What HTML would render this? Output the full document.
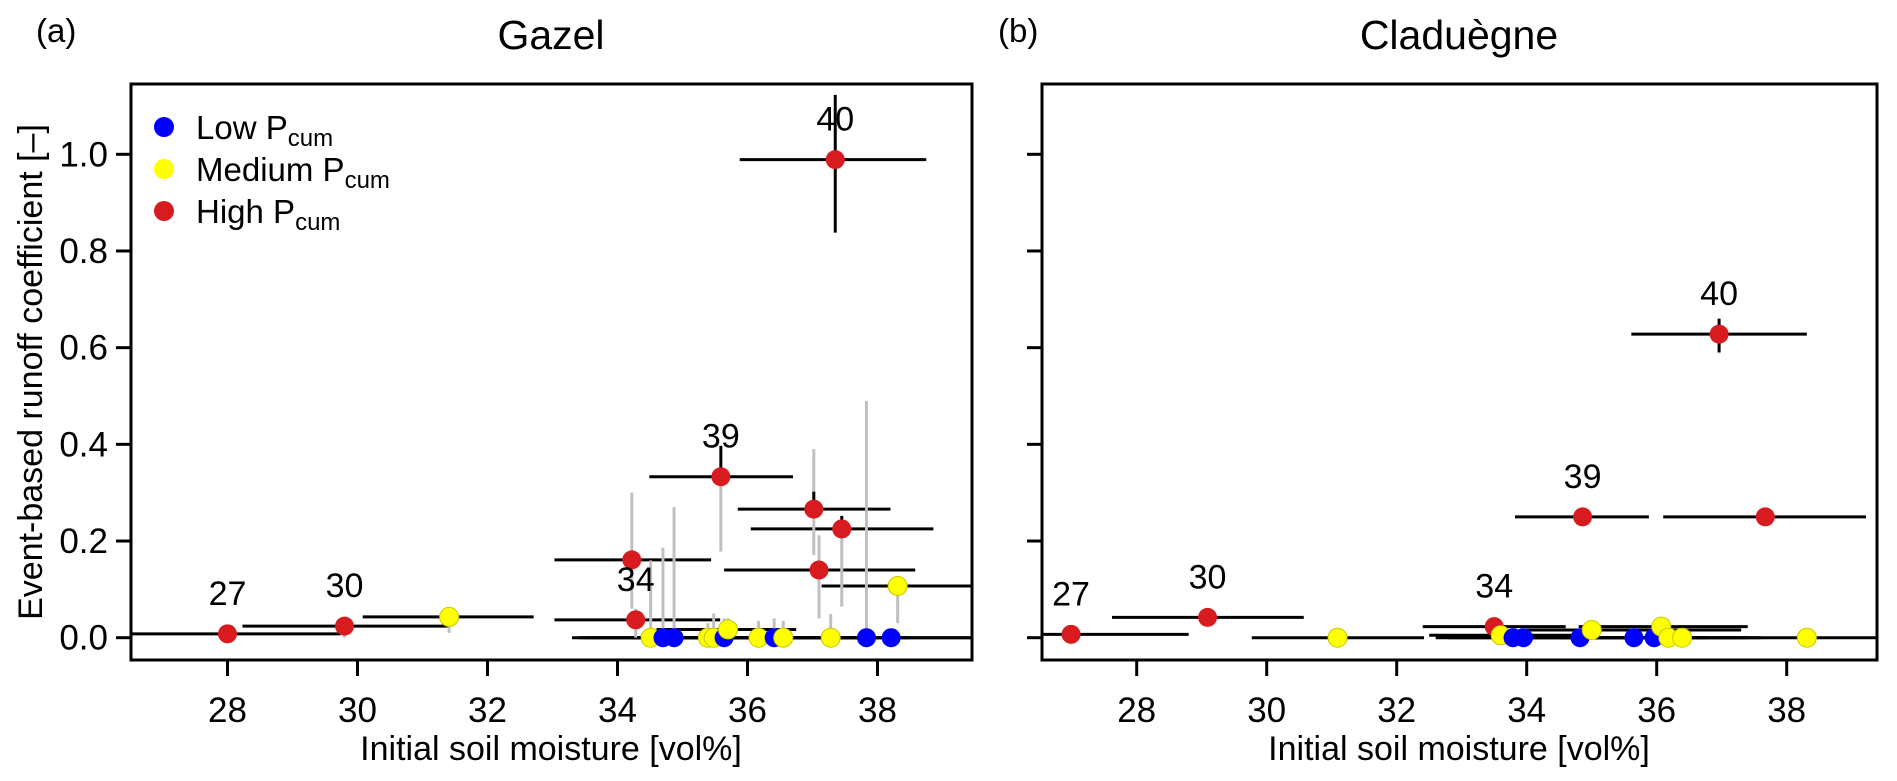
<!DOCTYPE html>
<html><head><meta charset="utf-8">
<style>
html,body{margin:0;padding:0;background:#fff;}
svg{display:block;font-family:"Liberation Sans",Arial,sans-serif;}
</style></head>
<body>
<svg id="chart" width="1897" height="781" viewBox="0 0 1897 781" xmlns="http://www.w3.org/2000/svg">
<defs>
<clipPath id="clipA"><rect x="131" y="84" width="841" height="576"/></clipPath>
<clipPath id="clipB"><rect x="1042" y="84" width="835" height="576"/></clipPath>
</defs>
<rect width="1897" height="781" fill="#fff"/>
<text x="36" y="42" font-size="33">(a)</text>
<text x="998" y="42" font-size="33">(b)</text>
<text x="551" y="49" font-size="41" text-anchor="middle">Gazel</text>
<text x="1459" y="49" font-size="41" text-anchor="middle">Claduègne</text>
<text transform="translate(42,372) rotate(-90)" font-size="34" text-anchor="middle">Event-based runoff coefficient [–]</text>
<text x="551" y="760" font-size="34" text-anchor="middle">Initial soil moisture [vol%]</text>
<text x="1459" y="760" font-size="34" text-anchor="middle">Initial soil moisture [vol%]</text>
<g id="panelA"></g>
<g id="panelB"></g>
<g>
<circle cx="164" cy="127" r="10" fill="#0000ff"/>
<text x="196" y="139" font-size="33">Low P<tspan font-size="24" dy="7">cum</tspan></text>
<circle cx="164" cy="169" r="10" fill="#ffff00"/>
<text x="196" y="181" font-size="33">Medium P<tspan font-size="24" dy="7">cum</tspan></text>
<circle cx="164" cy="211" r="10" fill="#d81b1e"/>
<text x="196" y="223" font-size="33">High P<tspan font-size="24" dy="7">cum</tspan></text>
</g>
</svg>
<script>
const xTicks = [28, 30, 32, 34, 36, 38];
const yTicks = [0.0, 0.2, 0.4, 0.6, 0.8, 1.0];
const yTickLabels = ["0.0", "0.2", "0.4", "0.6", "0.8", "1.0"];
const catColors = ["#0000ff", "#ffff00", "#d81b1e"];
const catNames = ["low", "medium", "high"];

// Gazel (a)
const gazelX   = [28.0, 29.80, 31.41, 34.22, 34.28, 34.51, 34.70, 34.87, 35.39, 35.48, 35.64, 35.59, 35.70, 36.17, 36.41, 36.55, 37.02, 37.10, 37.28, 37.45, 37.35, 37.83, 38.21, 38.31];
const gazelY   = [0.008, 0.024, 0.043, 0.161, 0.037, 0.0, 0.0, 0.0, 0.0, 0.0, 0.0, 0.333, 0.017, 0.0, 0.0, 0.0, 0.266, 0.140, 0.0, 0.225, 0.989, 0.0, 0.0, 0.107];
const gazelCat = [2, 2, 1, 2, 2, 1, 0, 0, 1, 1, 0, 2, 1, 1, 0, 1, 2, 2, 1, 2, 2, 0, 0, 1];
const gazelXlo = [26.2, 28.23, 30.08, 33.03, 33.03, 33.3, 33.4, 33.5, 34.2, 34.3, 34.4, 34.49, 34.6, 35.0, 35.2, 35.4, 35.85, 35.64, 36.1, 36.05, 35.88, 36.7, 37.0, 37.14];
const gazelXhi = [29.74, 31.39, 32.71, 35.44, 35.58, 35.7, 36.0, 36.2, 36.6, 36.7, 36.9, 36.70, 36.75, 37.3, 37.6, 37.7, 38.2, 38.58, 38.5, 38.86, 38.75, 39.5, 39.6, 39.6];
const gazelYlo = [0.008, 0.0, 0.01, 0.06, 0.0, 0.0, 0.0, 0.0, 0.0, 0.0, 0.0, 0.178, 0.0, 0.0, 0.0, 0.0, 0.171, 0.04, 0.0, 0.064, 0.838, 0.0, 0.0, 0.03];
const gazelYhi = [0.008, 0.03, 0.05, 0.30, 0.06, 0.16, 0.186, 0.27, 0.03, 0.05, 0.04, 0.333, 0.04, 0.035, 0.04, 0.035, 0.39, 0.212, 0.049, 0.225, 1.123, 0.49, 0.0, 0.107];
const gazelBlackHi = [null, null, null, null, null, null, null, null, null, null, null, 0.397, null, null, null, null, 0.302, null, null, 0.252, null, null, null, null];
const gazelLabel = ["27", "30", "", "", "34", "", "", "", "", "", "", "39", "", "", "", "", "", "", "", "", "40", "", "", ""];

// Claduegne (b)
const cladX   = [26.99, 29.09, 31.09, 33.50, 33.60, 33.79, 33.95, 34.82, 35.00, 35.65, 35.96, 36.07, 36.18, 36.39, 34.86, 37.67, 36.96, 38.31];
const cladY   = [0.007, 0.042, 0.0, 0.023, 0.005, 0.0, 0.0, 0.0, 0.016, 0.0, 0.0, 0.023, 0.0, 0.0, 0.250, 0.250, 0.628, 0.0];
const cladCat = [2, 2, 1, 2, 1, 0, 0, 0, 1, 0, 0, 1, 1, 1, 2, 2, 2, 1];
const cladXlo = [25.6, 27.62, 29.77, 32.4, 32.5, 32.6, 32.8, 33.6, 33.9, 34.5, 34.8, 34.8, 35.0, 35.2, 33.82, 36.10, 35.61, 37.0];
const cladXhi = [28.8, 30.57, 32.42, 34.6, 34.7, 35.0, 35.1, 36.0, 37.3, 36.8, 37.2, 37.4, 37.4, 37.6, 35.88, 39.22, 38.31, 39.6];
const cladYlo = [0.007, 0.042, 0.0, 0.023, 0.005, 0.0, 0.0, 0.0, 0.016, 0.0, 0.0, 0.023, 0.0, 0.0, 0.250, 0.24, 0.59, 0.0];
const cladYhi = [0.007, 0.042, 0.0, 0.023, 0.005, 0.0, 0.0, 0.0, 0.016, 0.0, 0.0, 0.023, 0.0, 0.0, 0.250, 0.26, 0.66, 0.0];
const cladLabel = ["27", "30", "", "34", "", "", "", "", "", "", "", "", "", "", "39", "", "40", ""];

const NS = "http://www.w3.org/2000/svg";
function mk(tag, attrs, parent) {
  const e = document.createElementNS(NS, tag);
  for (const k in attrs) e.setAttribute(k, attrs[k]);
  parent.appendChild(e);
  return e;
}

function drawPanel(g, box, clipId, showYLabels, X, Y, C, XL, XH, YL, YH, BH, LB, prefix) {
  const x0 = box.x28, pxU = 65, y0 = 637.7, pyU = 483.4;
  const sx = v => x0 + (v - 28) * pxU;
  const sy = v => y0 - v * pyU;
  xTicks.forEach(t => {
    const l = mk("line", {x1: sx(t), x2: sx(t), y1: box.b, y2: box.b + 16, stroke: "#000", "stroke-width": 3}, g);
    
    
    const tx = mk("text", {x: sx(t), y: box.b + 62, "font-size": 35, "text-anchor": "middle"}, g);
    tx.textContent = t;
    
    
  });
  yTicks.forEach((t, i) => {
    const l = mk("line", {x1: box.l - 15, x2: box.l, y1: sy(t), y2: sy(t), stroke: "#000", "stroke-width": 3}, g);
    
    
    if (showYLabels) {
      const tx = mk("text", {x: box.l - 23, y: sy(t) + 12, "font-size": 35, "text-anchor": "end"}, g);
      tx.textContent = yTickLabels[i];
      
      
    }
  });
  const pg = mk("g", {"clip-path": "url(#" + clipId + ")"}, g);
  
  
  X.forEach((v, i) => {
    const l = mk("line", {x1: sx(XL[i]), x2: sx(XH[i]), y1: sy(Y[i]), y2: sy(Y[i]), stroke: "#000", "stroke-width": 3}, pg);
    
    
  });
  X.forEach((v, i) => {
    if (YH[i] - YL[i] <= 0.0001) return;
    const black = (C[i] === 2 && (prefix === "b" || LB[i] === "40"));
    const l = mk("line", {x1: sx(v), x2: sx(v), y1: sy(YL[i]), y2: sy(YH[i]), stroke: black ? "#000" : "#c0c0c0", "stroke-width": 3}, pg);
    
    
    if (BH && BH[i] != null) {
      const s = mk("line", {x1: sx(v), x2: sx(v), y1: sy(Y[i]), y2: sy(BH[i]), stroke: "#000", "stroke-width": 3}, pg);
      
      
    }
  });
  X.forEach((v, i) => {
    const c = mk("circle", {cx: sx(v), cy: sy(Y[i]), r: 9.5, fill: catColors[C[i]], stroke: C[i] === 1 ? "#c8c800" : "none", "stroke-width": 1}, pg);
    
    
  });
  X.forEach((v, i) => {
    if (!LB[i]) return;
    const t = mk("text", {x: sx(v), y: sy(Y[i]) - 29, "font-size": 34, "text-anchor": "middle"}, g);
    t.textContent = LB[i];
    
    
  });
  const r = mk("rect", {x: box.l, y: box.t, width: box.r - box.l, height: box.b - box.t, fill: "none", stroke: "#000", "stroke-width": 3}, g);
  
  
}

drawPanel(document.getElementById("panelA"), {l: 131, r: 972, t: 84, b: 660, x28: 227.5}, "clipA", true,
  gazelX, gazelY, gazelCat, gazelXlo, gazelXhi, gazelYlo, gazelYhi, gazelBlackHi, gazelLabel, "a");
drawPanel(document.getElementById("panelB"), {l: 1042, r: 1877, t: 84, b: 660, x28: 1136.7}, "clipB", false,
  cladX, cladY, cladCat, cladXlo, cladXhi, cladYlo, cladYhi, null, cladLabel, "b");
</script>
</body></html>
